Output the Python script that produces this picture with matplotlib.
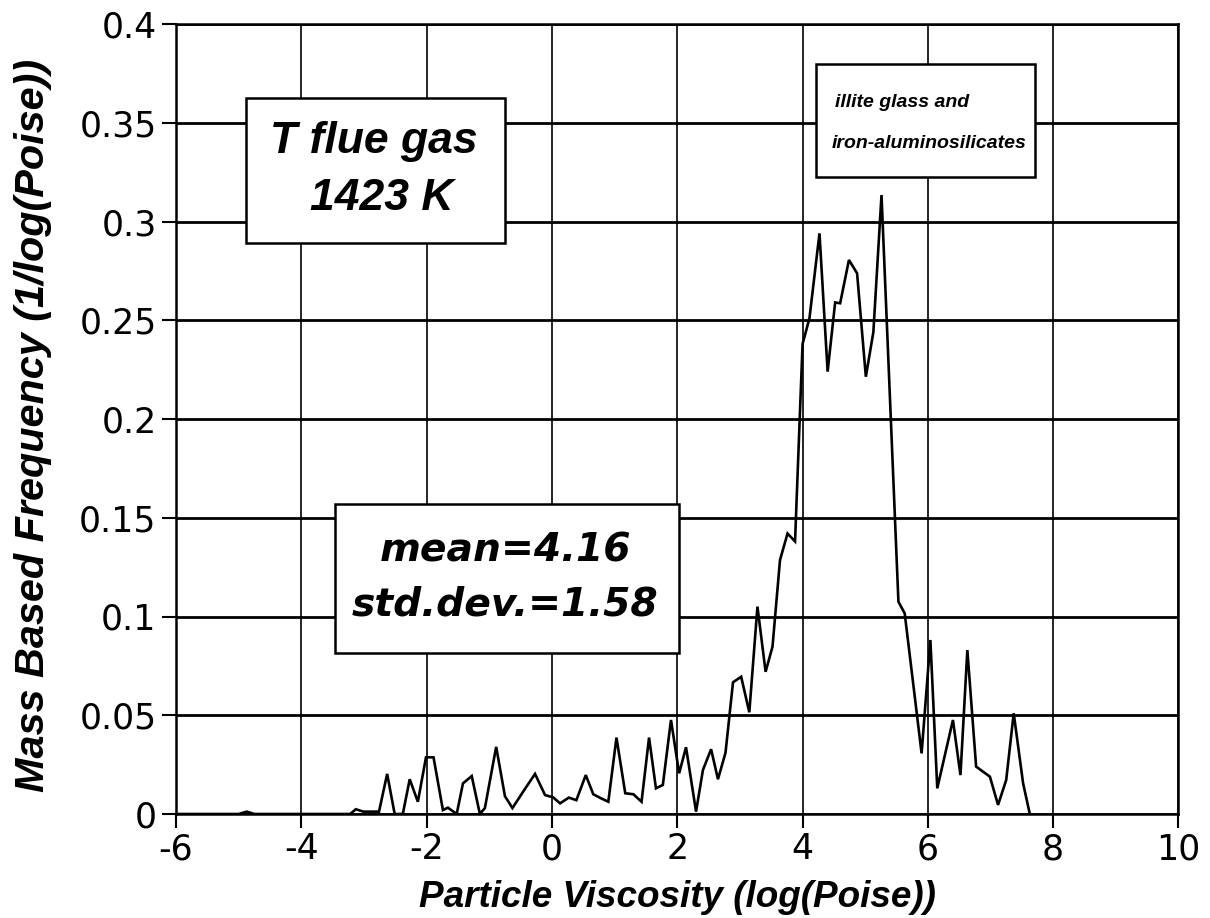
import matplotlib
matplotlib.use("Agg")
import matplotlib.pyplot as plt
from matplotlib.patches import Rectangle

# ---- data ----
viscosity = [-6.0, -5.0, -4.87, -4.75, -3.22, -3.13, -3.01, -2.76, -2.63, -2.51, -2.38,
             -2.27, -2.14, -2.01, -1.89, -1.74, -1.66, -1.52, -1.42, -1.28, -1.15,
             -1.07, -0.89, -0.75, -0.63, -0.46, -0.27, -0.11, 0.02, 0.13, 0.27,
             0.39, 0.54, 0.66, 0.78, 0.90, 1.03, 1.17, 1.30, 1.43, 1.55, 1.66,
             1.77, 1.90, 2.03, 2.14, 2.30, 2.41, 2.54, 2.65, 2.77, 2.89, 3.02,
             3.15, 3.28, 3.41, 3.52, 3.64, 3.76, 3.88, 4.00, 4.11, 4.27, 4.40,
             4.52, 4.60, 4.74, 4.87, 5.01, 5.13, 5.26, 5.53, 5.63, 5.90, 6.04,
             6.15, 6.40, 6.52, 6.63, 6.77, 6.99, 7.12, 7.25, 7.37, 7.52, 7.62]
frequency = [0.0, 0.0, 0.0012, 0.0, 0.0, 0.0024, 0.0012, 0.0012, 0.0203, 0.0, 0.0,
             0.0176, 0.0062, 0.0287, 0.0287, 0.0020, 0.0032, 0.0, 0.0155, 0.0192, 0.0,
             0.0030, 0.0340, 0.0090, 0.0030, 0.0113, 0.0203, 0.0096, 0.0084, 0.0054, 0.0083,
             0.0070, 0.0197, 0.0100, 0.0080, 0.0062, 0.0387, 0.0105, 0.0100, 0.0062, 0.0387, 0.0130,
             0.0147, 0.0476, 0.0206, 0.0338, 0.0012, 0.0223, 0.0328, 0.0176, 0.0310, 0.0667, 0.0695,
             0.0515, 0.1050, 0.0720, 0.0847, 0.1286, 0.1420, 0.1380, 0.2380, 0.2510, 0.2940, 0.2240,
             0.2590, 0.2586, 0.2805, 0.2738, 0.2214, 0.2440, 0.3134, 0.1075, 0.1016, 0.0307, 0.0881,
             0.0130, 0.0476, 0.0197, 0.0830, 0.0240, 0.0189, 0.0046, 0.0172, 0.0510, 0.0155, 0.0010]

x_ticks = [-6, -4, -2, 0, 2, 4, 6, 8, 10]
x_ticklabels = ["-6", "-4", "-2", "0", "2", "4", "6", "8", "10"]
y_ticks = [0, 0.05, 0.1, 0.15, 0.2, 0.25, 0.3, 0.35, 0.4]
y_ticklabels = ["0", "0.05", "0.1", "0.15", "0.2", "0.25", "0.3", "0.35", "0.4"]

W, H = 1210, 918
L, R, T, B = 176, 1178.5, 24, 814

fig = plt.figure(figsize=(W / 100, H / 100), dpi=100)
ax = fig.add_axes([L / W, 1 - B / H, (R - L) / W, (B - T) / H])

ax.plot(viscosity, frequency, color="black", lw=1.9, zorder=3, solid_joinstyle="miter")

ax.set_xlim(-6, 10)
ax.set_ylim(0, 0.4)
ax.set_xticks(x_ticks)
ax.set_xticklabels(x_ticklabels)
ax.set_yticks(y_ticks)
ax.set_yticklabels(y_ticklabels)

for lab in ax.get_xticklabels() + ax.get_yticklabels():
    lab.set_fontfamily("DejaVu Sans")
    lab.set_fontsize(25)
ax.tick_params(axis="both", direction="out", length=10, width=1.5, color="black")
ax.tick_params(axis="x", pad=3)
ax.tick_params(axis="y", pad=4)

for sp in ax.spines.values():
    sp.set_linewidth(1.8)
    sp.set_color("black")

ax.yaxis.grid(True, color="black", lw=2.0, zorder=1)
ax.xaxis.grid(True, color="black", lw=1.2, zorder=1)
ax.set_axisbelow(True)

lab_font = ["Liberation Sans", "DejaVu Sans"]
ax.set_xlabel("Particle Viscosity (log(Poise))", family=lab_font, fontweight="bold",
              style="italic", fontsize=26.6, labelpad=10)
ax.set_ylabel("Mass Based Frequency (1/log(Poise))", family=lab_font, fontweight="bold",
              style="italic", fontsize=29.8)
ax.yaxis.set_label_coords(-0.1237, 0.4924)


def ax_x(px):
    return (px - L) / (R - L)


def ax_y(py):
    return (B - py) / (B - T)


def box(x0, x1, y0, y1):
    r = Rectangle((ax_x(x0), ax_y(y1)), ax_x(x1) - ax_x(x0), ax_y(y0) - ax_y(y1),
                  transform=ax.transAxes, facecolor="white", edgecolor="black",
                  lw=1.8, zorder=4)
    ax.add_patch(r)


# Box 1
box(246, 505, 98, 243)
ax.text(ax_x(374), ax_y(153), "T flue gas", transform=ax.transAxes, ha="center",
        va="baseline", family=lab_font, fontweight="bold", style="italic", fontsize=32, zorder=5)
ax.text(ax_x(382), ax_y(210), "1423 K", transform=ax.transAxes, ha="center",
        va="baseline", family=lab_font, fontweight="bold", style="italic", fontsize=32, zorder=5)

# Box 2
box(816, 1035, 64, 177)
ax.text(ax_x(835), ax_y(107), "illite glass and", transform=ax.transAxes, ha="left",
        va="baseline", family=lab_font, fontweight="bold", style="italic", fontsize=14, zorder=5)
ax.text(ax_x(832), ax_y(148), "iron-aluminosilicates", transform=ax.transAxes, ha="left",
        va="baseline", family=lab_font, fontweight="bold", style="italic", fontsize=14, zorder=5)

# Box 3
box(335, 679, 504, 653)
ax.text(ax_x(505.5), ax_y(562), "mean=4.16", transform=ax.transAxes, ha="center",
        va="baseline", family="DejaVu Sans", fontweight="bold", style="italic", fontsize=28.3, zorder=5)
ax.text(ax_x(505), ax_y(615), "std.dev.=1.58", transform=ax.transAxes, ha="center",
        va="baseline", family="DejaVu Sans", fontweight="bold", style="italic", fontsize=28.3, zorder=5)

fig.savefig("out.png", dpi=100)
